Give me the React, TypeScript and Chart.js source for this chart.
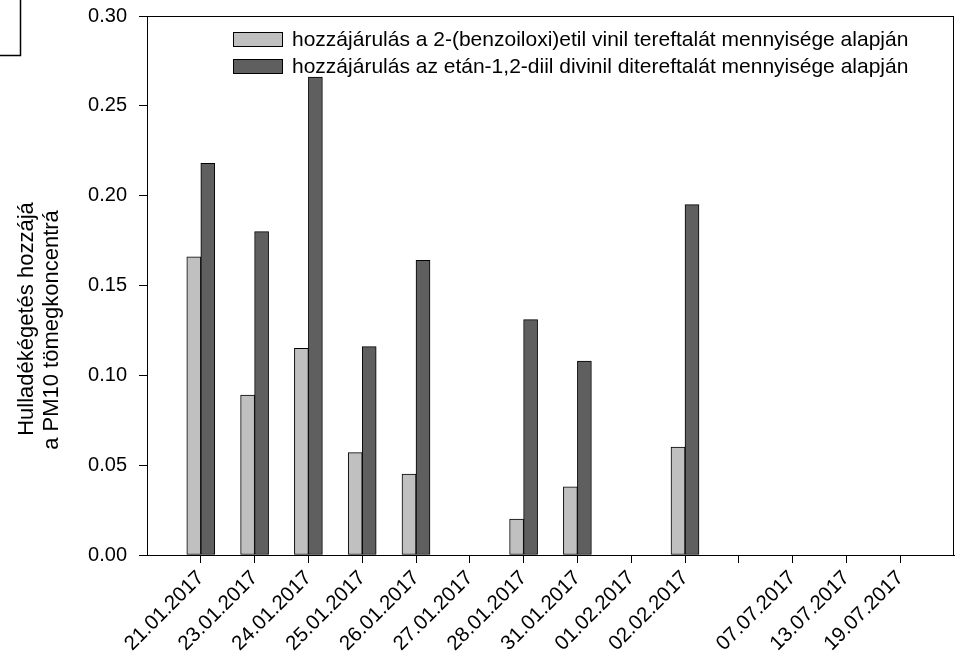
import React, { useEffect, useRef } from 'react';
import { Chart, registerables } from 'chart.js';

Chart.register(...registerables);

const dates = [
  '21.01.2017', '23.01.2017', '24.01.2017', '25.01.2017', '26.01.2017', '27.01.2017',
  '28.01.2017', '31.01.2017', '01.02.2017', '02.02.2017', '', '07.07.2017', '13.07.2017', '19.07.2017',
];
const benzoiloxiValues = [0.166, 0.089, 0.115, 0.057, 0.045, null, 0.020, 0.038, null, 0.060, null, null, null, null];
const etandiilValues = [0.218, 0.180, 0.266, 0.116, 0.164, null, 0.131, 0.108, null, 0.195, null, null, null, null];
const seriesNames = [
  'hozzájárulás a 2-(benzoiloxi)etil vinil tereftalát mennyisége alapján',
  'hozzájárulás az etán-1,2-diil divinil ditereftalát mennyisége alapján',
];
const yTitleLines = ['Hulladékégetés hozzájá', 'a PM10 tömegkoncentrá'];
const yMin = 0;
const yMax = 0.3;
const yStep = 0.05;

const FONT = '"Liberation Sans", Arial, sans-serif';
const LIGHT = '#c0c0c0';
const DARK = '#5f5f5f';

const decorPlugin = {
  id: 'decor',
  afterDraw(chart: any) {
    const ctx = chart.ctx;
    const a = chart.chartArea;
    ctx.save();
    // frame
    ctx.strokeStyle = '#000';
    ctx.lineWidth = 1;
    ctx.strokeRect(Math.round(a.left) + 0.5, Math.round(a.top) + 0.5, Math.round(a.right - a.left) - 1, Math.round(a.bottom - a.top));
    // top-left partial box
    ctx.lineWidth = 1.5;
    ctx.beginPath();
    ctx.moveTo(20.5, 0);
    ctx.lineTo(20.5, 55.5);
    ctx.lineTo(0, 55.5);
    ctx.stroke();
    // legend
    const fills = [LIGHT, DARK];
    ctx.font = `21px ${FONT}`;
    ctx.textAlign = 'left';
    ctx.textBaseline = 'alphabetic';
    seriesNames.forEach((name, i) => {
      const by = 32.5 + i * 27;
      ctx.fillStyle = fills[i];
      ctx.fillRect(233.5, by, 49, 14);
      ctx.lineWidth = 1;
      ctx.strokeStyle = '#000';
      ctx.strokeRect(233.5, by, 49, 14);
      ctx.fillStyle = '#000';
      ctx.fillText(name, 292, 46 + i * 26.5);
    });
    // y title
    ctx.font = `22px ${FONT}`;
    ctx.textAlign = 'center';
    const pos = [[33, 319], [58, 330]];
    yTitleLines.forEach((t, i) => {
      ctx.save();
      ctx.translate(pos[i][0], pos[i][1]);
      ctx.rotate(-Math.PI / 2);
      ctx.fillText(t, 0, 0);
      ctx.restore();
    });
    ctx.restore();
  },
};

export default function App() {
  const ref = useRef<HTMLCanvasElement>(null);
  useEffect(() => {
    if (!ref.current) return;
    const chart = new Chart(ref.current, {
      type: 'bar',
      data: {
        datasets: [
          {
            label: seriesNames[0],
            data: benzoiloxiValues.map((v, i) => ({ x: i + 1, y: v })) as any,
            backgroundColor: LIGHT,
            borderColor: '#000',
            borderWidth: 1,
            borderSkipped: false,
            barThickness: 14,
          },
          {
            label: seriesNames[1],
            data: etandiilValues.map((v, i) => ({ x: i + 1, y: v })) as any,
            backgroundColor: DARK,
            borderColor: '#000',
            borderWidth: 1,
            borderSkipped: false,
            barThickness: 14,
          },
        ],
      },
      options: {
        responsive: false,
        animation: false,
        layout: { padding: { left: 0, right: 3, top: 16, bottom: 0 } },
        plugins: {
          legend: { display: false },
          tooltip: { enabled: false },
        },
        scales: {
          x: {
            type: 'linear',
            offset: false,
            min: 0,
            max: dates.length + 1,
            afterBuildTicks: (scale: any) => {
              scale.ticks = dates.map((_, i) => ({ value: i + 1 }));
            },
            afterFit: (scale: any) => {
              scale.height = 102;
              scale.paddingLeft = 0;
              scale.paddingRight = 0;
            },
            grid: { offset: false, drawOnChartArea: false, drawTicks: true, tickLength: 8, color: '#000', lineWidth: 1 },
            border: { display: true, color: '#000', width: 1 },
            ticks: {
              autoSkip: false,
              minRotation: 45,
              maxRotation: 45,
              padding: 3,
              color: '#000',
              font: { family: FONT, size: 20.5 },
              callback: (v: any) => dates[Math.round(Number(v)) - 1] ?? '',
            },
          },
          y: {
            min: yMin,
            max: yMax,
            afterFit: (scale: any) => {
              scale.width = 147;
              scale.paddingTop = 0;
              scale.paddingBottom = 0;
            },
            grid: { drawOnChartArea: false, drawTicks: true, tickLength: 8, color: '#000', lineWidth: 1 },
            border: { display: true, color: '#000', width: 1 },
            ticks: {
              stepSize: yStep,
              padding: 12,
              color: '#000',
              font: { family: FONT, size: 20 },
              callback: (v: any) => Number(v).toFixed(2),
            },
          },
        },
      },
      plugins: [decorPlugin],
    });
    return () => chart.destroy();
  }, []);
  return (
    <div style={{ position: 'fixed', left: 0, top: 0, width: 957, height: 657, background: '#fff' }}>
      <canvas ref={ref} width={957} height={657} style={{ display: 'block' }} />
    </div>
  );
}
